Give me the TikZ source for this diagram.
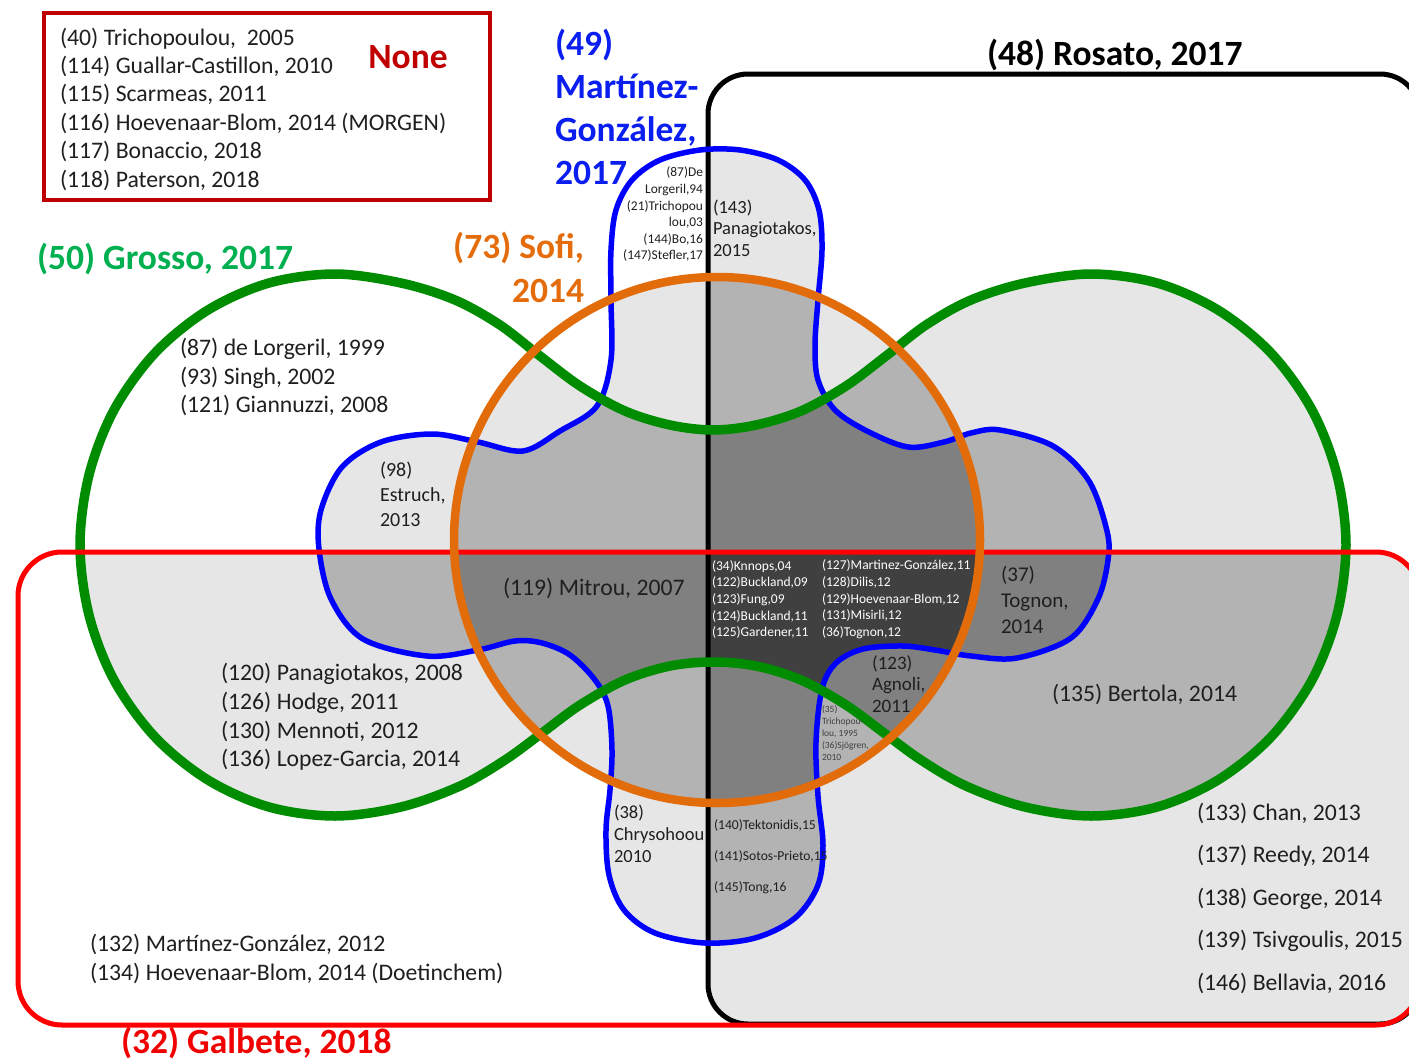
\documentclass[tikz,border=0pt]{standalone}
\usepackage{fontspec}
\setmainfont{Carlito}
\definecolor{c2}{HTML}{E6E6E6}
\definecolor{c3}{HTML}{B3B3B3}
\definecolor{c4}{HTML}{808080}
\definecolor{c5}{HTML}{404040}
\definecolor{txt}{HTML}{1F1F1F}
\definecolor{gstroke}{HTML}{008C00}
\definecolor{gtitle}{HTML}{00B050}
\definecolor{bstroke}{HTML}{0000FF}
\definecolor{btitle}{HTML}{0A1EF0}
\definecolor{ostroke}{HTML}{E36C0A}
\definecolor{otitle}{HTML}{E46C0A}
\definecolor{rstroke}{HTML}{FF0000}
\definecolor{rtitle}{HTML}{F00000}
\definecolor{nonec}{HTML}{C00000}
\newcommand\fs[2]{\fontsize{#1}{#2}\selectfont}
\newcommand\shG{plot[smooth cycle,tension=0.55] coordinates{(713,430) (756,425) (801,411) (846,386) (886,356) (926,325) (971,300) (1025,283) (1091,274) (1157,283) (1218,310) (1271,353) (1312,410) (1337,475) (1346,545) (1337,615) (1312,680) (1271,737) (1218,780) (1157,807) (1091,816) (1025,807) (966,786) (921,760) (884,733) (846,705) (801,680) (756,666) (713,662) (670,666) (625,680) (580,705) (542,733) (505,760) (460,786) (401,807) (335,816) (269,807) (208,780) (155,737) (114,680) (89,615) (80,545) (89,475) (114,410) (155,353) (208,310) (269,283) (335,274) (401,283) (455,300) (500,325) (540,356) (580,386) (625,411) (670,425)}}
\newcommand\shB{plot[smooth cycle,tension=0.55] coordinates{(611,300) (611,250) (616,210) (632,180) (660,160) (700,150) (740,150) (778,160) (805,180) (819,210) (822,250) (818,300) (815,345) (818,380) (835,410) (867,431) (908,447) (944,442) (971,433) (1000,430) (1053,446) (1089,481) (1107,531) (1108,560) (1098,599) (1071,638) (1017,658) (971,656) (935,650) (903,646) (863,649) (836,663) (822,689) (816,742) (818,796) (823,845) (818,885) (795,918) (755,938) (705,943) (655,933) (624,910) (609,875) (606,830) (610,790) (612,750) (608,706) (595,680) (570,655) (542,643) (515,641) (478,650) (427,656) (363,639) (331,599) (319,549) (321,510) (342,467) (381,442) (432,434) (478,442) (523,451) (560,431) (597,406) (611,360)}}
\newcommand\shO{(717,540) circle[radius=263pt]}
\newcommand\shK{[rounded corners=40pt] (708,74) rectangle (1420,1024)}
\newcommand\shR{[rounded corners=44pt] (18,552) rectangle (1420,1025)}
\newcommand\RegII[3]{\begin{scope}\clip #2;\clip #3;\fill[#1] (0,0) rectangle (1409,1060);\end{scope}}
\newcommand\RegIII[4]{\begin{scope}\clip #2;\clip #3;\clip #4;\fill[#1] (0,0) rectangle (1409,1060);\end{scope}}
\newcommand\RegIV[5]{\begin{scope}\clip #2;\clip #3;\clip #4;\clip #5;\fill[#1] (0,0) rectangle (1409,1060);\end{scope}}
\newcommand\RegV[6]{\begin{scope}\clip #2;\clip #3;\clip #4;\clip #5;\clip #6;\fill[#1] (0,0) rectangle (1409,1060);\end{scope}}
\begin{document}
\begin{tikzpicture}[x=1pt,y=-1pt,
  every node/.style={inner sep=0pt,outer sep=0pt},
  lbl/.style={anchor=west,align=left,text=txt,font=\fs{23.7}{28.4}},
  ttl/.style={anchor=west,align=left,font=\bfseries\fs{35.5}{43}},
  gline/.style={draw=gstroke,line width=9.5pt},
  bline/.style={draw=bstroke,line width=5.5pt},
  oline/.style={draw=ostroke,line width=8.5pt},
  rline/.style={draw=rstroke,line width=5pt},
  kline/.style={draw=black,line width=5pt}]
\useasboundingbox (0,0) rectangle (1409,1060);
\clip (0,0) rectangle (1409,1060);
\fill[white] (0,0) rectangle (1409,1060);
% --- shading by number of overlapping sets
\RegII{c2}{\shG}{\shB}
\RegII{c2}{\shG}{\shO}
\RegII{c2}{\shG}{\shK}
\RegII{c2}{\shG}{\shR}
\RegII{c2}{\shB}{\shO}
\RegII{c2}{\shB}{\shK}
\RegII{c2}{\shB}{\shR}
\RegII{c2}{\shO}{\shK}
\RegII{c2}{\shO}{\shR}
\RegII{c2}{\shK}{\shR}
\RegIII{c3}{\shG}{\shB}{\shO}
\RegIII{c3}{\shG}{\shB}{\shK}
\RegIII{c3}{\shG}{\shB}{\shR}
\RegIII{c3}{\shG}{\shO}{\shK}
\RegIII{c3}{\shG}{\shO}{\shR}
\RegIII{c3}{\shG}{\shK}{\shR}
\RegIII{c3}{\shB}{\shO}{\shK}
\RegIII{c3}{\shB}{\shO}{\shR}
\RegIII{c3}{\shB}{\shK}{\shR}
\RegIII{c3}{\shO}{\shK}{\shR}
\RegIV{c4}{\shG}{\shB}{\shO}{\shK}
\RegIV{c4}{\shG}{\shB}{\shO}{\shR}
\RegIV{c4}{\shG}{\shB}{\shK}{\shR}
\RegIV{c4}{\shG}{\shO}{\shK}{\shR}
\RegIV{c4}{\shB}{\shO}{\shK}{\shR}
\RegV{c5}{\shG}{\shB}{\shO}{\shK}{\shR}
% --- outlines
\draw[kline] \shK;
\draw[bline] \shB;
\draw[gline] \shG;
\draw[rline] \shR;
\draw[oline] \shO;
% --- None box
\draw[draw=nonec,line width=4pt] (44,13) rectangle (490,200);
\node[lbl,font=\fs{23.7}{28.4}] (nonelist) at (60,109) {(40) Trichopoulou,\ \ 2005\\(114) Guallar-Castillon, 2010\\(115) Scarmeas, 2011\\(116) Hoevenaar-Blom, 2014 (MORGEN)\\(117) Bonaccio, 2018\\(118) Paterson, 2018};
\node[ttl,anchor=center,text=nonec] (none) at (408,57) {None};
% --- titles
\node[ttl] (rosato) at (987,55) {(48) Rosato, 2017};
\node[ttl,text=btitle] (mg) at (555,106.5) {(49)\\Martínez-\\González,\\2017};
\node[ttl,anchor=east,align=right,text=otitle,font=\bfseries\fs{35.5}{44}] (sofi) at (584,267) {(73) Sofi,\\2014};
\node[ttl,text=gtitle] (grosso) at (37,259) {(50) Grosso, 2017};
\node[ttl,text=rtitle] (galbete) at (121,1043) {(32) Galbete, 2018};
% --- region labels
\node[lbl] (g1) at (180,377) {(87) de Lorgeril, 1999\\(93) Singh, 2002\\(121) Giannuzzi, 2008};
\node[lbl,font=\fs{20}{25}] (estruch) at (380,494) {(98)\\Estruch,\\2013};
\node[lbl] (mitrou) at (503,588) {(119) Mitrou, 2007};
\node[lbl,font=\fs{23.7}{28.7}] (gr1) at (221,717) {(120) Panagiotakos, 2008\\(126) Hodge, 2011\\(130) Mennoti, 2012\\(136) Lopez-Garcia, 2014};
\node[lbl] (r1) at (90,959) {(132) Martínez-González, 2012\\(134) Hoevenaar-Blom, 2014 (Doetinchem)};
\node[lbl,font=\fs{18.5}{22}] (chrys) at (614,834) {(38)\\Chrysohoou\\2010};
\node[lbl,font=\fs{13.6}{31}] (bk1) at (714,857) {(140)Tektonidis,15\\(141)Sotos-Prieto,15\\(145)Tong,16};
\node[lbl,font=\fs{18.5}{21.5}] (pan15) at (713,228) {(143)\\Panagiotakos,\\2015};
\node[lbl,anchor=east,align=right,font=\fs{13.4}{16.6}] (btop) at (703,214.5) {(87)De\\Lorgeril,94\\(21)Trichopou\\lou,03\\(144)Bo,16\\(147)Stefler,17};
\node[lbl,text=white,font=\fs{13.5}{16.7}] (all1) at (712,599.5) {(34)Knnops,04\\(122)Buckland,09\\(123)Fung,09\\(124)Buckland,11\\(125)Gardener,11};
\node[lbl,text=white,font=\fs{13.5}{16.7}] (all2) at (822,599.5) {(127)Martinez-González,11\\(128)Dilis,12\\(129)Hoevenaar-Blom,12\\(131)Misirli,12\\(36)Tognon,12};
\node[lbl,font=\fs{21}{26}] (tognon) at (1001,600) {(37)\\Tognon,\\2014};
\node[lbl,font=\fs{19}{21.5}] (agnoli) at (872,684) {(123)\\Agnoli,\\2011};
\node[lbl,text=c5,font=\fs{9.5}{12}] (trich) at (822,733) {(35)\\Trichopou-\\lou, 1995\\(36)Sjögren,\\2010};
\node[lbl] (bertola) at (1052,694) {(135) Bertola, 2014};
\node[lbl,font=\fs{23.7}{42.5}] (kr) at (1197,898) {(133) Chan, 2013\\(137) Reedy, 2014\\(138) George, 2014\\(139) Tsivgoulis, 2015\\(146) Bellavia, 2016};
\end{tikzpicture}
\end{document}
